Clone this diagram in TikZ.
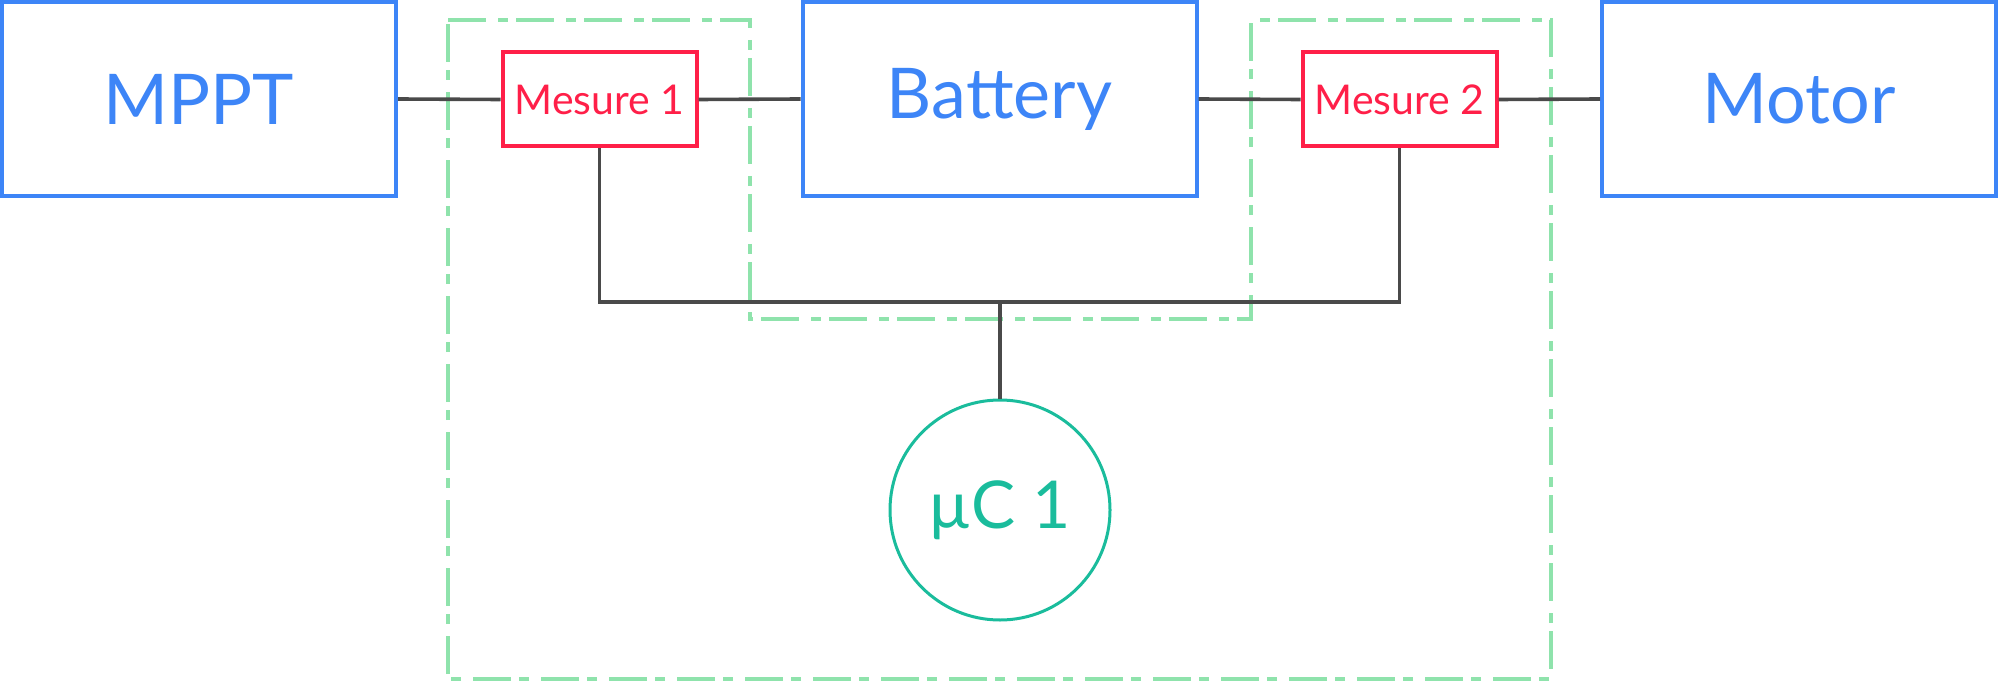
\documentclass[tikz,border=0pt]{standalone}
\usepackage{fontspec}
\setmainfont{Lato}
\definecolor{cblue}{RGB}{61,133,247}
\definecolor{cred}{RGB}{255,31,72}
\definecolor{cteal}{RGB}{26,188,156}
\definecolor{cgreen}{RGB}{143,227,172}
\definecolor{cgray}{RGB}{74,74,74}
\begin{document}
\begin{tikzpicture}[x=0.5pt,y=-0.5pt,
  bigbox/.style={draw=cblue,line width=2pt,rectangle,minimum width=197pt,minimum height=97pt,inner sep=0pt,text=cblue,font=\fontsize{35}{40}\selectfont},
  mesbox/.style={draw=cred,line width=2pt,rectangle,minimum width=97pt,minimum height=47pt,inner sep=0pt,text=cred,font=\fontsize{20.5}{24}\selectfont},
  mcnode/.style={draw=cteal,line width=1.5pt,circle,minimum size=110pt,inner sep=0pt,text=cteal,font=\fontsize{33}{38}\selectfont},
  wire/.style={draw=cgray,line width=1.8pt},
  zone/.style={draw=cgreen,line width=2pt,dash pattern=on 19pt off 6pt on 5pt off 4pt}]
\useasboundingbox (0,0) rectangle (2000,684);
\draw[zone] (448,20) -- (750,20) -- (750,319) -- (1251,319) -- (1251,20) -- (1551,20) -- (1551,679) -- (448,679) -- cycle;
\node[bigbox] (mppt) at (199,99) {MPPT};
\node[bigbox] (bat) at (999.5,99) {Battery};
\node[bigbox] (motor) at (1799,99) {Motor};
\node[mesbox] (m1) at (599.5,99.5) {Mesure 1};
\node[mesbox] (m2) at (1399.5,99.5) {Mesure 2};
\node[mcnode] (mc) at (1000,510) {µC 1};
\coordinate (j) at (1000,302);
\draw[wire] (mppt.east) -- (m1.west);
\draw[wire] (m1.east) -- (bat.west);
\draw[wire] (bat.east) -- (m2.west);
\draw[wire] (m2.east) -- (motor.west);
\draw[wire] (m1.south) |- (j) -| (m2.south);
\draw[wire] (j) -- (mc.north);
\end{tikzpicture}
\end{document}
